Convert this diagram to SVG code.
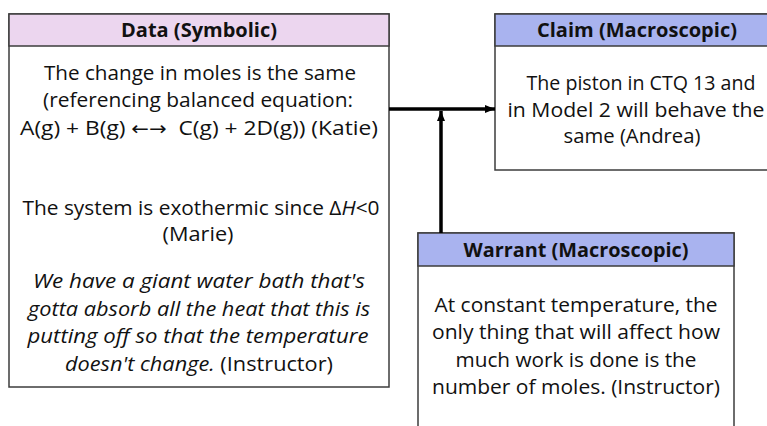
<svg xmlns="http://www.w3.org/2000/svg" width="767" height="426" viewBox="0 0 767 426">
  <style>
    .box { fill: #ffffff; stroke: #3c3c3c; stroke-width: 1.5; }
    .hdr-pink { fill: #ecd6ef; stroke: #3c3c3c; stroke-width: 1.5; }
    .hdr-blue { fill: #a9b3ef; stroke: #3c3c3c; stroke-width: 1.5; }
    .title { font-family: "Open Sans", "Noto Sans", sans-serif; font-weight: bold; font-size: 19px; fill: #111111; text-anchor: middle; }
    .body { font-family: "Open Sans", "Noto Sans", sans-serif; font-size: 20.5px; fill: #111111; text-anchor: middle; }
    .it { font-style: italic; }
    .arr { font-family: "DejaVu Sans", sans-serif; font-size: 19px; }
    .conn { stroke: #000000; stroke-width: 3.5; fill: none; }
  </style>
  <defs>
    <marker id="head" viewBox="0 0 10 10" refX="10" refY="5" markerWidth="10" markerHeight="10" markerUnits="userSpaceOnUse" orient="auto">
      <path d="M0,1 L10,5 L0,9 Z" fill="#000000"/>
    </marker>
  </defs>
  <rect width="767" height="426" fill="#ffffff"/>

  <!-- Data node -->
  <g id="data">
    <rect class="box" x="9" y="14" width="380" height="373"/>
    <rect class="hdr-pink" x="9" y="14" width="380" height="32"/>
    <text class="title" x="199" y="37" textLength="156" lengthAdjust="spacingAndGlyphs">Data (Symbolic)</text>
    <text class="body" x="200" y="80" textLength="312" lengthAdjust="spacingAndGlyphs">The change in moles is the same</text>
    <text class="body" x="198" y="107" textLength="310" lengthAdjust="spacingAndGlyphs">(referencing balanced equation:</text>
    <text class="body" x="199" y="135" textLength="358" lengthAdjust="spacingAndGlyphs">A(g) + B(g) <tspan class="arr">←→</tspan> &#160;C(g) + 2D(g)) (Katie)</text>
    <text class="body" x="201" y="215" textLength="357" lengthAdjust="spacingAndGlyphs">The system is exothermic since Δ<tspan class="it">H</tspan>&lt;0</text>
    <text class="body" x="198" y="241" textLength="71" lengthAdjust="spacingAndGlyphs">(Marie)</text>
    <text class="body it" x="199" y="288" textLength="332" lengthAdjust="spacingAndGlyphs">We have a giant water bath that's</text>
    <text class="body it" x="199" y="316" textLength="342" lengthAdjust="spacingAndGlyphs">gotta absorb all the heat that this is</text>
    <text class="body it" x="198" y="343" textLength="341" lengthAdjust="spacingAndGlyphs">putting off so that the temperature</text>
    <text class="body" x="199" y="371" textLength="268" lengthAdjust="spacingAndGlyphs"><tspan class="it">doesn't change.</tspan> (Instructor)</text>
  </g>

  <!-- Claim node -->
  <g id="claim">
    <rect class="box" x="495" y="14" width="290" height="156"/>
    <rect class="hdr-blue" x="495" y="14" width="290" height="32"/>
    <text class="title" x="637" y="37" textLength="200" lengthAdjust="spacingAndGlyphs">Claim (Macroscopic)</text>
    <text class="body" x="641" y="90" textLength="229" lengthAdjust="spacingAndGlyphs">The piston in CTQ 13 and</text>
    <text class="body" x="636" y="117" textLength="257" lengthAdjust="spacingAndGlyphs">in Model 2 will behave the</text>
    <text class="body" x="632" y="143" textLength="137" lengthAdjust="spacingAndGlyphs">same (Andrea)</text>
  </g>

  <!-- Warrant node -->
  <g id="warrant">
    <rect class="box" x="418" y="233" width="316" height="220"/>
    <rect class="hdr-blue" x="418" y="233" width="316" height="33"/>
    <text class="title" x="576" y="257" textLength="225" lengthAdjust="spacingAndGlyphs">Warrant (Macroscopic)</text>
    <text class="body" x="576" y="312" textLength="283" lengthAdjust="spacingAndGlyphs">At constant temperature, the</text>
    <text class="body" x="576" y="339" textLength="288" lengthAdjust="spacingAndGlyphs">only thing that will affect how</text>
    <text class="body" x="576" y="367" textLength="241" lengthAdjust="spacingAndGlyphs">much work is done is the</text>
    <text class="body" x="576" y="394" textLength="288" lengthAdjust="spacingAndGlyphs">number of moles. (Instructor)</text>
  </g>

  <!-- Connectors -->
  <g id="connectors">
    <line class="conn" x1="389" y1="109" x2="495" y2="109" marker-end="url(#head)"/>
    <line class="conn" x1="441" y1="233" x2="441" y2="111" marker-end="url(#head)"/>
  </g>
</svg>
